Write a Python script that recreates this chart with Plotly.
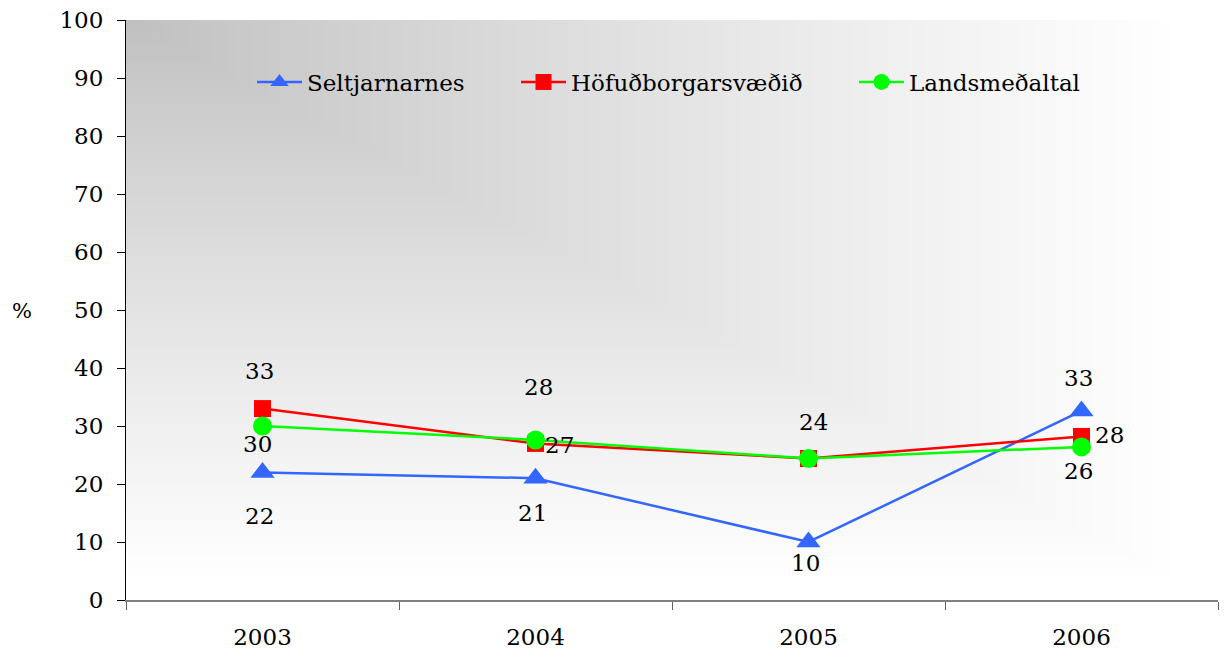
import base64, struct, zlib
import plotly.graph_objects as go

# ---------------- data ----------------
years = ["2003", "2004", "2005", "2006"]
seltjarnarnes = [22, 21, 10, 32.6]
hofudborgarsvaedid = [33, 27, 24.4, 28.2]
landsmedaltal = [30, 27.6, 24.4, 26.4]
selt_labels = ["22", "21", "10", "33"]
hofud_labels = ["33", "27", "", "28"]
lands_labels = ["30", "28", "24", "26"]
y_ticks = [0, 10, 20, 30, 40, 50, 60, 70, 80, 90, 100]

FONT = "DejaVu Serif"
FS = 23

# ---------------- background gradient (png) ----------------
PW, PH = 1092, 580          # plot area in px
GW, GH = 1054, 560          # extent of the gradient


def gradient_png(w, h):
    rows = []
    for j in range(h):
        row = bytearray([0])
        py = (j + 0.5) / h * PH
        for i in range(w):
            px = (i + 0.5) / w * PW
            t = max(px / GW, py / GH)
            t = min(t, 1.0)
            v = 191 + (255 - 191) * (t ** 0.85)
            row.append(int(round(max(0, min(255, v)))))
        rows.append(bytes(row))
    raw = b"".join(rows)

    def chunk(tag, data):
        c = struct.pack(">I", len(data)) + tag + data
        return c + struct.pack(">I", zlib.crc32(tag + data) & 0xFFFFFFFF)

    png = b"\x89PNG\r\n\x1a\n"
    png += chunk(b"IHDR", struct.pack(">IIBBBBB", w, h, 8, 0, 0, 0, 0))
    png += chunk(b"IDAT", zlib.compress(raw, 9))
    png += chunk(b"IEND", b"")
    return "data:image/png;base64," + base64.b64encode(png).decode()


bg = gradient_png(364, 194)

fig = go.Figure()

fig.add_trace(go.Scatter(
    x=years, y=seltjarnarnes, name="Seltjarnarnes", mode="lines+markers",
    line=dict(color="#3366FF", width=2.5),
    marker=dict(symbol="triangle-up", size=21, color="#3366FF"),
    legend="legend",
))
fig.add_trace(go.Scatter(
    x=years, y=hofudborgarsvaedid, name="Höfuðborgarsvæðið", mode="lines+markers",
    line=dict(color="#FF0000", width=2.5),
    marker=dict(symbol="square", size=17, color="#FF0000"),
    legend="legend2",
))
fig.add_trace(go.Scatter(
    x=years, y=landsmedaltal, name="Landsmeðaltal", mode="lines+markers",
    line=dict(color="#00FF00", width=2.5),
    marker=dict(symbol="circle", size=19, color="#00FF00"),
    legend="legend3",
))

# data labels (offsets in px)
selt_off = [(-3, -44), (-3, -35), (-3, -21), (-3, 33)]
hofud_off = [(-3, 38), (24, -2), (0, 0), (28, 1)]
lands_off = [(-5, -18), (3, 53), (5, 36), (-3, -24)]

annotations = []
for vals, labs, offs in [(seltjarnarnes, selt_labels, selt_off),
                         (hofudborgarsvaedid, hofud_labels, hofud_off),
                         (landsmedaltal, lands_labels, lands_off)]:
    for idx, (y, lab, (dx, dy)) in enumerate(zip(vals, labs, offs)):
        if not lab:
            continue
        annotations.append(dict(
            x=idx, y=y, xref="x", yref="y", text=lab, showarrow=False,
            xshift=dx, yshift=dy, font=dict(family=FONT, size=FS, color="black"),
        ))

annotations.append(dict(
    x=(22 - 126) / 1092, y=(600 - 311) / 580, xref="paper", yref="paper",
    text="%", showarrow=False, xanchor="center", yanchor="middle",
    font=dict(family=FONT, size=21, color="black"),
))

leg_common = dict(
    orientation="h", y=(600 - 82) / 580, xanchor="left", yanchor="middle",
    bgcolor="rgba(0,0,0,0)", font=dict(family=FONT, size=FS, color="black"),
    itemwidth=45,
)

fig.update_layout(
    width=1226, height=653,
    margin=dict(l=126, r=8, t=20, b=53),
    paper_bgcolor="white",
    plot_bgcolor="rgba(0,0,0,0)",
    showlegend=True,
    legend=dict(x=(252 - 126) / 1092, **leg_common),
    legend2=dict(x=(516 - 126) / 1092, **leg_common),
    legend3=dict(x=(854 - 126) / 1092, **leg_common),
    images=[dict(
        source=bg, xref="paper", yref="paper", x=0, y=1,
        sizex=1, sizey=1, sizing="stretch", layer="below",
    )],
    annotations=annotations,
    xaxis=dict(
        type="category", range=[-0.5, 3.5], tickson="boundaries",
        showgrid=False, zeroline=False, automargin=False,
        showline=True, linecolor="#808080", linewidth=2,
        ticks="outside", ticklen=8, tickcolor="#606060", tickwidth=1,
        tickfont=dict(family=FONT, size=FS, color="black"),
        ticklabelstandoff=15,
    ),
    yaxis=dict(
        range=[0, 100], tickvals=y_ticks, showgrid=False, zeroline=False,
        automargin=False,
        showline=True, linecolor="black", linewidth=1,
        ticks="outside", ticklen=8, tickcolor="black",
        tickfont=dict(family=FONT, size=FS, color="black"),
        ticklabelstandoff=9, ticklabeloverflow="allow",
    ),
)

fig.write_html("out.html", config={"displayModeBar": False},
               post_script="document.body.style.margin='0';")
